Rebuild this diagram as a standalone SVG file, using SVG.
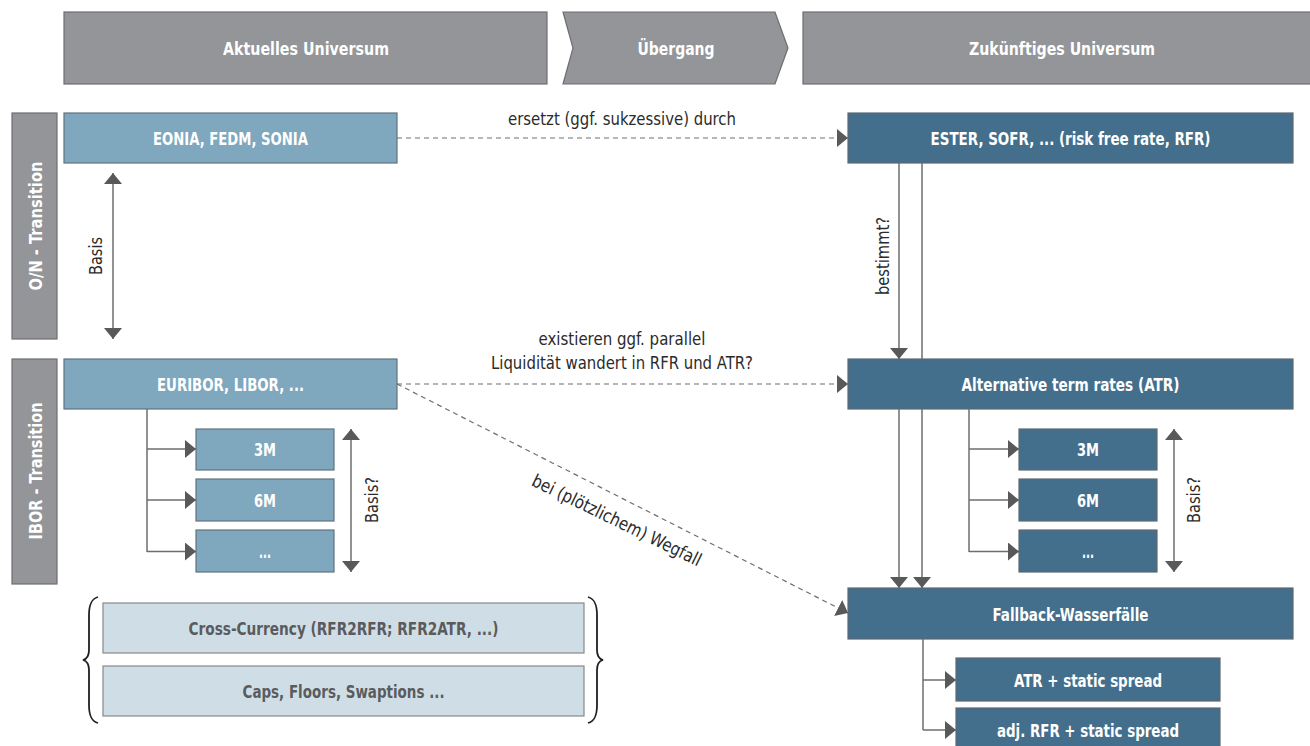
<svg xmlns="http://www.w3.org/2000/svg" width="1310" height="746" viewBox="0 0 1310 746">
  <defs>
    <style>
      text { font-family: "Liberation Sans Narrow", "DejaVu Sans Condensed", "Roboto Condensed", sans-serif; font-stretch: condensed; }
      .hdr { fill: #939598; stroke: #6d6e71; stroke-width: 1.2; }
      .hdr-t { fill: #ffffff; font-size: 18.5px; font-weight: bold; text-anchor: middle; dominant-baseline: central; }
      .side { fill: #939598; stroke: #6d6e71; stroke-width: 1.2; }
      .side-t { fill: #ffffff; font-size: 18.5px; font-weight: bold; text-anchor: middle; dominant-baseline: central; }
      .lb { fill: #7fa7bd; stroke: #60727e; stroke-width: 1.2; }
      .db { fill: #436f8c; stroke: #5d6a73; stroke-width: 1.2; }
      .pb { fill: #cfdee6; stroke: #87898b; stroke-width: 1.2; }
      .bt { fill: #ffffff; font-size: 18.5px; font-weight: bold; text-anchor: middle; dominant-baseline: central; }
      .pt { fill: #5a5b5d; font-size: 18.5px; font-weight: bold; text-anchor: middle; dominant-baseline: central; }
      .lbl { fill: #2b2b2b; font-size: 18px; text-anchor: middle; dominant-baseline: central; }
      .ln { fill: none; stroke: #6d6e71; stroke-width: 1.5; }
      .dash { fill: none; stroke: #6d6e71; stroke-width: 1.2; stroke-dasharray: 5 4; }
      .brace { fill: none; stroke: #231f20; stroke-width: 1.8; }
    </style>
    <marker id="ah" viewBox="0 0 11 18" refX="11" refY="9" markerWidth="11" markerHeight="18" markerUnits="userSpaceOnUse" orient="auto-start-reverse">
      <path d="M0,0 L11,9 L0,18 Z" fill="#58595b"/>
    </marker>
  </defs>

  <!-- column headers -->
  <g id="hdr-current">
    <rect class="hdr" x="64" y="12" width="483" height="72"/>
    <text class="hdr-t" x="306" y="48" textLength="166" lengthAdjust="spacingAndGlyphs">Aktuelles Universum</text>
  </g>
  <g id="hdr-transition">
    <polygon class="hdr" points="563,12 775,12 788,48 775,84 563,84 573,48"/>
    <text class="hdr-t" x="676" y="48" textLength="77" lengthAdjust="spacingAndGlyphs">Übergang</text>
  </g>
  <g id="hdr-future">
    <rect class="hdr" x="803" y="12" width="510" height="72"/>
    <text class="hdr-t" x="1062" y="48" textLength="186" lengthAdjust="spacingAndGlyphs">Zukünftiges Universum</text>
  </g>

  <!-- row labels -->
  <g id="row-on">
    <rect class="side" x="12" y="113" width="45" height="226"/>
    <text class="side-t" transform="translate(35,226) rotate(-90)" textLength="129" lengthAdjust="spacingAndGlyphs">O/N - Transition</text>
  </g>
  <g id="row-ibor">
    <rect class="side" x="12" y="359" width="45" height="225"/>
    <text class="side-t" transform="translate(35,471) rotate(-90)" textLength="137" lengthAdjust="spacingAndGlyphs">IBOR - Transition</text>
  </g>

  <!-- current universe -->
  <g id="eonia">
    <rect class="lb" x="64" y="113" width="333" height="50"/>
    <text class="bt" x="230.5" y="138" textLength="155" lengthAdjust="spacingAndGlyphs">EONIA, FEDM, SONIA</text>
  </g>
  <g id="euribor">
    <rect class="lb" x="64" y="359" width="333" height="50"/>
    <text class="bt" x="230.5" y="384" textLength="147" lengthAdjust="spacingAndGlyphs">EURIBOR, LIBOR, ...</text>
  </g>
  <g id="ibor-3m">
    <rect class="lb" x="196" y="429" width="138" height="41"/>
    <text class="bt" x="265" y="449.5" textLength="22" lengthAdjust="spacingAndGlyphs">3M</text>
  </g>
  <g id="ibor-6m">
    <rect class="lb" x="196" y="479" width="138" height="42"/>
    <text class="bt" x="265" y="500" textLength="22" lengthAdjust="spacingAndGlyphs">6M</text>
  </g>
  <g id="ibor-more">
    <rect class="lb" x="196" y="530" width="138" height="42"/>
    <text class="bt" x="265" y="551" textLength="12" lengthAdjust="spacingAndGlyphs">...</text>
  </g>
  <g id="xccy">
    <rect class="pb" x="103" y="603" width="481" height="50"/>
    <text class="pt" x="343.5" y="628" textLength="310" lengthAdjust="spacingAndGlyphs">Cross-Currency (RFR2RFR; RFR2ATR, ...)</text>
  </g>
  <g id="options">
    <rect class="pb" x="103" y="666" width="481" height="50"/>
    <text class="pt" x="343.5" y="691" textLength="202" lengthAdjust="spacingAndGlyphs">Caps, Floors, Swaptions ...</text>
  </g>
  <g id="braces">
    <path class="brace" d="M98,597 C91,599 89,605 89,615 L89,650 C89,656 87,659 83,660 C87,661 89,664 89,670 L89,705 C89,715 91,721 98,723"/>
    <path class="brace" d="M588,597 C595,599 597,605 597,615 L597,650 C597,656 599,659 603,660 C599,661 597,664 597,670 L597,705 C597,715 595,721 588,723"/>
  </g>

  <!-- future universe -->
  <g id="rfr">
    <rect class="db" x="848" y="113" width="445" height="50"/>
    <text class="bt" x="1070.5" y="138" textLength="280" lengthAdjust="spacingAndGlyphs">ESTER, SOFR, ... (risk free rate, RFR)</text>
  </g>
  <g id="atr">
    <rect class="db" x="848" y="359" width="445" height="50"/>
    <text class="bt" x="1070.5" y="384" textLength="218" lengthAdjust="spacingAndGlyphs">Alternative term rates (ATR)</text>
  </g>
  <g id="atr-3m">
    <rect class="db" x="1019" y="429" width="138" height="41"/>
    <text class="bt" x="1088" y="449.5" textLength="22" lengthAdjust="spacingAndGlyphs">3M</text>
  </g>
  <g id="atr-6m">
    <rect class="db" x="1019" y="479" width="138" height="42"/>
    <text class="bt" x="1088" y="500" textLength="22" lengthAdjust="spacingAndGlyphs">6M</text>
  </g>
  <g id="atr-more">
    <rect class="db" x="1019" y="530" width="138" height="42"/>
    <text class="bt" x="1088" y="551" textLength="12" lengthAdjust="spacingAndGlyphs">...</text>
  </g>
  <g id="fallback">
    <rect class="db" x="848" y="588" width="445" height="51"/>
    <text class="bt" x="1070.5" y="614" textLength="156" lengthAdjust="spacingAndGlyphs">Fallback-Wasserfälle</text>
  </g>
  <g id="fb-atr">
    <rect class="db" x="956" y="658" width="264" height="43"/>
    <text class="bt" x="1088" y="680" textLength="148" lengthAdjust="spacingAndGlyphs">ATR + static spread</text>
  </g>
  <g id="fb-rfr">
    <rect class="db" x="956" y="708" width="264" height="44"/>
    <text class="bt" x="1088" y="730" textLength="182" lengthAdjust="spacingAndGlyphs">adj. RFR + static spread</text>
  </g>

  <!-- connectors -->
  <g id="connectors">
    <!-- replacement of overnight rates -->
    <line class="dash" x1="397" y1="138" x2="848" y2="138" marker-end="url(#ah)"/>
    <text class="lbl" x="622" y="118" textLength="228" lengthAdjust="spacingAndGlyphs">ersetzt (ggf. sukzessive) durch</text>

    <!-- IBOR to term rates -->
    <line class="dash" x1="397" y1="384" x2="848" y2="384" marker-end="url(#ah)"/>
    <text class="lbl" x="622" y="338" textLength="167" lengthAdjust="spacingAndGlyphs">existieren ggf. parallel</text>
    <text class="lbl" x="622" y="362" textLength="262" lengthAdjust="spacingAndGlyphs">Liquidität wandert in RFR und ATR?</text>

    <!-- IBOR to fallback -->
    <line class="dash" x1="397" y1="384" x2="848" y2="613" marker-end="url(#ah)"/>
    <text class="lbl" transform="translate(617,520) rotate(26)" textLength="186" lengthAdjust="spacingAndGlyphs">bei (plötzlichem) Wegfall</text>

    <!-- basis between O/N and IBOR -->
    <line class="ln" x1="113" y1="173" x2="113" y2="339" marker-start="url(#ah)" marker-end="url(#ah)"/>
    <text class="lbl" transform="translate(95,256) rotate(-90)" textLength="38" lengthAdjust="spacingAndGlyphs">Basis</text>

    <!-- IBOR tenors -->
    <path class="ln" d="M147,409 L147,552"/>
    <line class="ln" x1="147" y1="449" x2="196" y2="449" marker-end="url(#ah)"/>
    <line class="ln" x1="147" y1="500" x2="196" y2="500" marker-end="url(#ah)"/>
    <line class="ln" x1="147" y1="551.5" x2="196" y2="551.5" marker-end="url(#ah)"/>
    <line class="ln" x1="351" y1="429" x2="351" y2="572" marker-start="url(#ah)" marker-end="url(#ah)"/>
    <text class="lbl" transform="translate(371,500) rotate(-90)" textLength="46" lengthAdjust="spacingAndGlyphs">Basis?</text>

    <!-- RFR determines ATR -->
    <line class="ln" x1="899" y1="163" x2="899" y2="359" marker-end="url(#ah)"/>
    <line class="ln" x1="922" y1="163" x2="922" y2="359"/>
    <text class="lbl" transform="translate(882,256) rotate(-90)" textLength="78" lengthAdjust="spacingAndGlyphs">bestimmt?</text>

    <!-- RFR / ATR into fallback -->
    <line class="ln" x1="899" y1="409" x2="899" y2="588" marker-end="url(#ah)"/>
    <line class="ln" x1="922" y1="409" x2="922" y2="588" marker-end="url(#ah)"/>

    <!-- ATR tenors -->
    <path class="ln" d="M969,409 L969,552"/>
    <line class="ln" x1="969" y1="449" x2="1019" y2="449" marker-end="url(#ah)"/>
    <line class="ln" x1="969" y1="500" x2="1019" y2="500" marker-end="url(#ah)"/>
    <line class="ln" x1="969" y1="551.5" x2="1019" y2="551.5" marker-end="url(#ah)"/>
    <line class="ln" x1="1174" y1="429" x2="1174" y2="572" marker-start="url(#ah)" marker-end="url(#ah)"/>
    <text class="lbl" transform="translate(1193,500) rotate(-90)" textLength="46" lengthAdjust="spacingAndGlyphs">Basis?</text>

    <!-- fallback waterfall -->
    <path class="ln" d="M923,639 L923,730"/>
    <line class="ln" x1="923" y1="680" x2="956" y2="680" marker-end="url(#ah)"/>
    <line class="ln" x1="923" y1="730" x2="956" y2="730" marker-end="url(#ah)"/>
  </g>
</svg>
